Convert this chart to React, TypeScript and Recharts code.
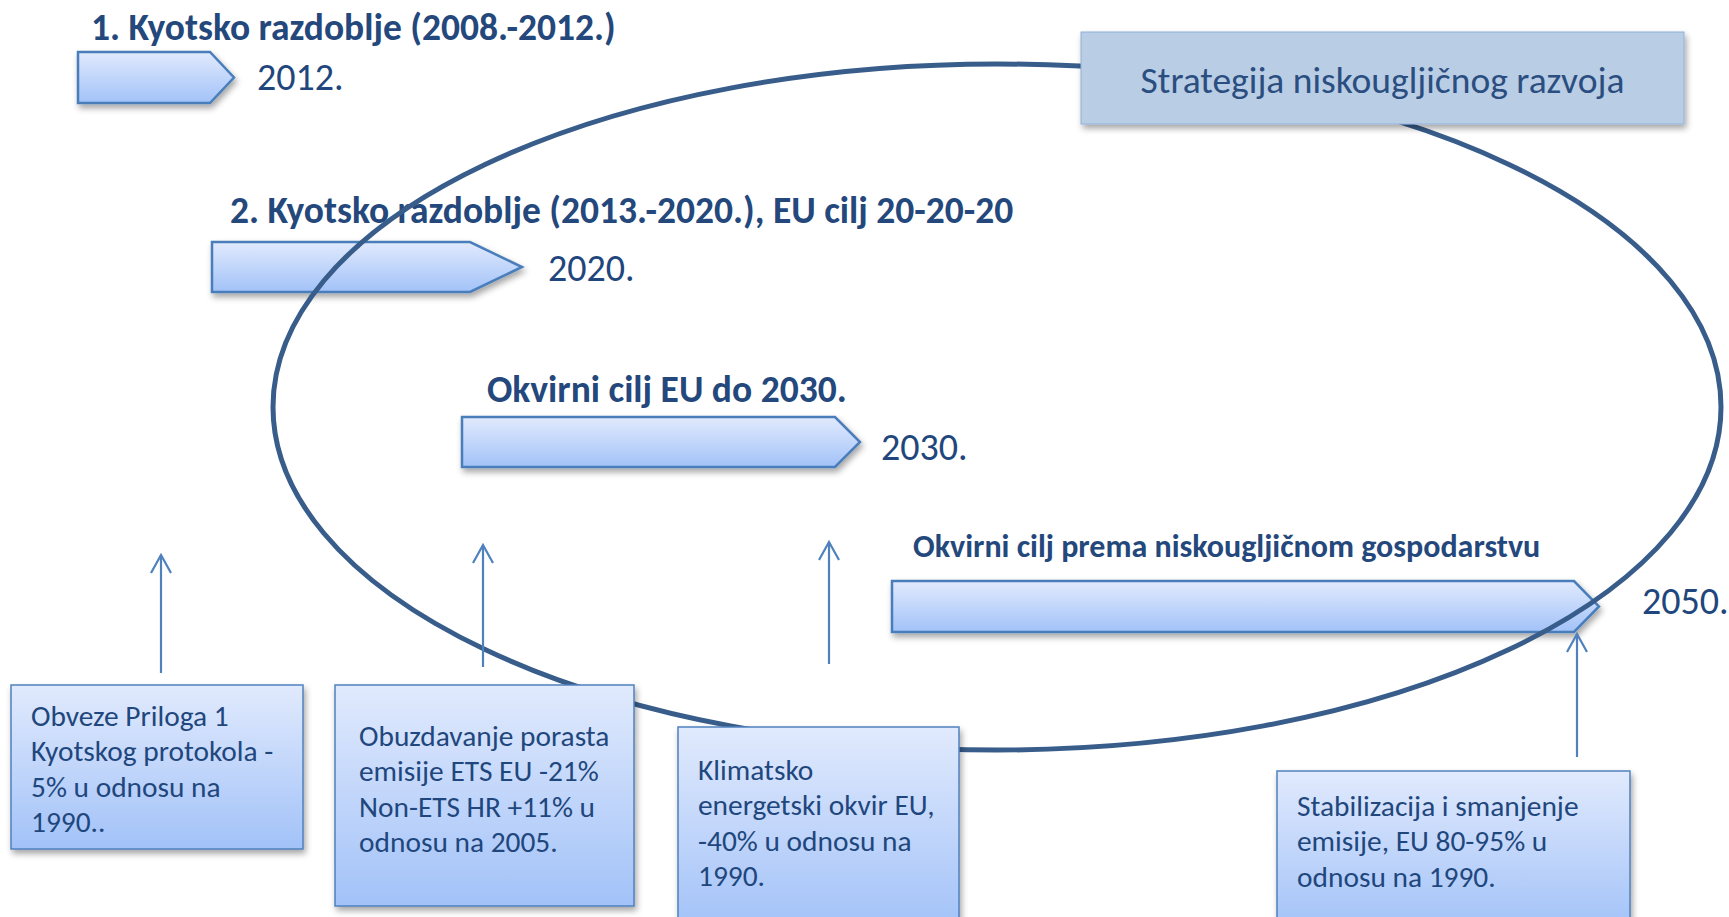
import React from "react";
import { ComposedChart, XAxis, YAxis, ReferenceArea, ReferenceDot } from "recharts";

const WIDTH = 1729;
const HEIGHT = 917;

// timeline periods, in diagram units (1 unit = 1 px of the reference)
const periodTitles = [
  "1. Kyotsko razdoblje (2008.-2012.)",
  "2. Kyotsko razdoblje (2013.-2020.), EU cilj 20-20-20",
  "Okvirni cilj EU do 2030.",
  "Okvirni cilj prema niskougljičnom gospodarstvu",
];
const periodYears = ["2012.", "2020.", "2030.", "2050."];
const periodStart = [78, 212, 462, 892];
const periodEnd = [234, 522, 860, 1599];
const periodTop = [52, 242, 417, 581];
const periodBottom = [103, 292, 467, 632];
const titleX = [91, 230, 487, 913];
const titleY = [40, 223, 402, 557];
const yearX = [257, 548, 881, 1642];
const yearY = [90, 281, 460, 614];

// notes under the timeline
const noteLines = [
  ["Obveze Priloga 1", "Kyotskog protokola -", "5% u odnosu na", "1990.."],
  ["Obuzdavanje porasta", "emisije ETS EU -21%", "Non-ETS HR +11% u", "odnosu na 2005."],
  ["Klimatsko", "energetski okvir EU,", "-40% u odnosu na", "1990."],
  ["Stabilizacija i smanjenje", "emisije, EU 80-95% u", "odnosu na 1990."],
];
const noteLeft = [11, 335, 678, 1277];
const noteRight = [303, 634, 959, 1630];
const noteTop = [685, 685, 727, 771];
const noteBottom = [849, 906, 930, 930];
const noteTextX = [31, 359, 698, 1297];
const noteTextY = [726, 746, 780, 816];

// pointers from notes up to the timeline
const pointerX = [161, 483, 829, 1577];
const pointerTop = [555, 545, 542, 634];
const pointerBottom = [673, 667, 664, 757];

// strategy frame
const strategyLabel = "Strategija niskougljičnog razvoja";
const strategyBox = { x1: 1081, x2: 1684, y1: 32, y2: 124 };
const strategyOval = { cx: 997, cy: 407, rx: 724, ry: 343 };

const ARROW_TIPS = [24, 52, 25, 25];
const FONT = "Carlito, Calibri, Lato, sans-serif";
const TITLE_COLOR = "#24487C";
const TEXT_COLOR = "#1F477D";
const LINE_H = 35.3;

const pentagon = (tip: number) => (p: any) => {
  const { x, y, width, height } = p;
  const pts = [
    [x, y],
    [x + width - tip, y],
    [x + width, y + height / 2],
    [x + width - tip, y + height],
    [x, y + height],
  ]
    .map((q) => q.join(","))
    .join(" ");
  return (
    <polygon points={pts} fill="url(#blueFill)" stroke="#4A7EBB" strokeWidth={2.5} filter="url(#softShadow)" />
  );
};

const oval = (p: any) => (
  <ellipse
    cx={p.x + p.width / 2}
    cy={p.y + p.height / 2}
    rx={p.width / 2}
    ry={p.height / 2}
    fill="none"
    stroke="#385D8A"
    strokeWidth={5}
  />
);

const pointer = (p: any) => {
  const cx = p.x + p.width / 2;
  const top = p.y;
  const bottom = p.y + p.height;
  return (
    <g stroke="#4F81BD" strokeWidth={2.2} fill="none">
      <line x1={cx} y1={top} x2={cx} y2={bottom} />
      <polyline points={`${cx - 10},${top + 18} ${cx},${top} ${cx + 10},${top + 18}`} />
    </g>
  );
};

const noteBox = (p: any) => (
  <rect
    x={p.x}
    y={p.y}
    width={p.width}
    height={p.height}
    fill="url(#blueFill)"
    stroke="#4F81BD"
    strokeWidth={1.5}
    filter="url(#softShadow)"
  />
);

const strategyRect = (p: any) => (
  <rect
    x={p.x}
    y={p.y}
    width={p.width}
    height={p.height}
    fill="#B9CDE5"
    stroke="#8FB0DA"
    strokeWidth={1}
    filter="url(#softShadow)"
  />
);

const label =
  (text: string, size: number, weight: string | number, color: string, anchor: "start" | "middle" = "start") =>
  (p: any) => (
    <text x={p.cx} y={p.cy} fontFamily={FONT} fontSize={size} fontWeight={weight} fill={color} textAnchor={anchor}>
      {text}
    </text>
  );

const multiLabel = (lines: string[]) => (p: any) => (
  <text x={p.cx} y={p.cy} fontFamily={FONT} fontSize={29.4} fill={TEXT_COLOR}>
    {lines.map((l, i) => (
      <tspan key={i} x={p.cx} dy={i === 0 ? 0 : LINE_H}>
        {l}
      </tspan>
    ))}
  </text>
);

export default function App() {
  return (
    <div style={{ position: "absolute", left: 0, top: 0, width: WIDTH, height: HEIGHT, background: "#fff" }}>
      <ComposedChart width={WIDTH} height={HEIGHT} data={[]} margin={{ top: 0, right: 0, bottom: 0, left: 0 }}>
        <defs>
          <linearGradient id="blueFill" x1="0" y1="0" x2="0" y2="1">
            <stop offset="0%" stopColor="#E1EAFD" />
            <stop offset="100%" stopColor="#A2C2F8" />
          </linearGradient>
          <filter id="softShadow" x="-10%" y="-20%" width="130%" height="160%">
            <feDropShadow dx="2" dy="4" stdDeviation="3" floodColor="#000" floodOpacity="0.35" />
          </filter>
        </defs>
        <XAxis type="number" dataKey="x" domain={[0, WIDTH]} allowDataOverflow hide />
        <YAxis type="number" dataKey="y" domain={[0, HEIGHT]} allowDataOverflow reversed hide />

        {periodTitles.map((t, i) => (
          <ReferenceArea
            key={`arrow-${i}`}
            x1={periodStart[i]}
            x2={periodEnd[i]}
            y1={periodTop[i]}
            y2={periodBottom[i]}
            ifOverflow="visible"
            zIndex={200}
            shape={pentagon(ARROW_TIPS[i])}
          />
        ))}
        {periodTitles.map((t, i) => (
          <ReferenceDot
            key={`title-${i}`}
            x={titleX[i]}
            y={titleY[i]}
            r={0}
            ifOverflow="visible"
            zIndex={210}
            shape={label(t, i === 3 ? 32 : 37.5, 700, TITLE_COLOR)}
          />
        ))}
        {periodYears.map((t, i) => (
          <ReferenceDot
            key={`year-${i}`}
            x={yearX[i]}
            y={yearY[i]}
            r={0}
            ifOverflow="visible"
            zIndex={210}
            shape={label(t, 38, 400, TEXT_COLOR)}
          />
        ))}

        <ReferenceArea
          x1={strategyOval.cx - strategyOval.rx}
          x2={strategyOval.cx + strategyOval.rx}
          y1={strategyOval.cy - strategyOval.ry}
          y2={strategyOval.cy + strategyOval.ry}
          ifOverflow="visible"
          zIndex={220}
          shape={oval}
        />

        {pointerX.map((x, i) => (
          <ReferenceArea
            key={`ptr-${i}`}
            x1={x - 10}
            x2={x + 10}
            y1={pointerTop[i]}
            y2={pointerBottom[i]}
            ifOverflow="visible"
            zIndex={230}
            shape={pointer}
          />
        ))}

        {noteLines.map((lines, i) => (
          <ReferenceArea
            key={`note-${i}`}
            x1={noteLeft[i]}
            x2={noteRight[i]}
            y1={noteTop[i]}
            y2={noteBottom[i]}
            ifOverflow="visible"
            zIndex={240}
            shape={noteBox}
          />
        ))}
        <ReferenceArea
          x1={strategyBox.x1}
          x2={strategyBox.x2}
          y1={strategyBox.y1}
          y2={strategyBox.y2}
          ifOverflow="visible"
          zIndex={240}
          shape={strategyRect}
        />

        {noteLines.map((lines, i) => (
          <ReferenceDot
            key={`note-text-${i}`}
            x={noteTextX[i]}
            y={noteTextY[i]}
            r={0}
            ifOverflow="visible"
            zIndex={250}
            shape={multiLabel(lines)}
          />
        ))}
        <ReferenceDot
          x={(strategyBox.x1 + strategyBox.x2) / 2}
          y={93}
          r={0}
          ifOverflow="visible"
          zIndex={250}
          shape={label(strategyLabel, 37.5, 400, "#2B4E80", "middle")}
        />
      </ComposedChart>
    </div>
  );
}
